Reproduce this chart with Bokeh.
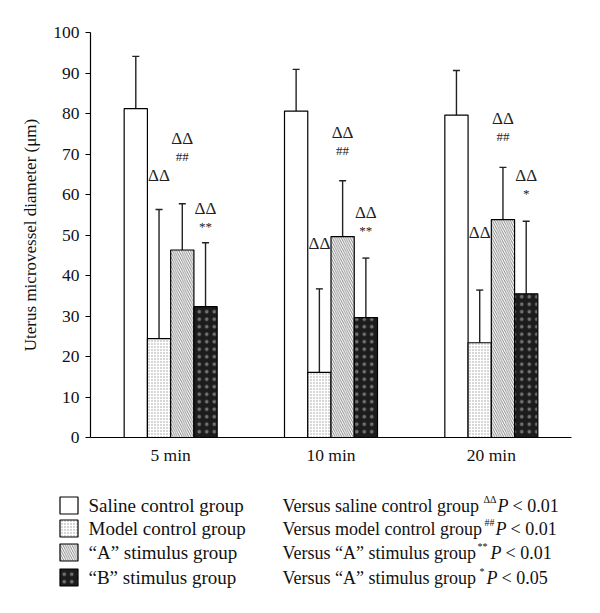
from bokeh.plotting import figure
from bokeh.models import (ColumnDataSource, Range1d, SingleIntervalTicker, FixedTicker,
                          LinearAxis)
from bokeh.transform import dodge
from bokeh.core.properties import value
from bokeh.embed import file_html
from bokeh.resources import INLINE

# ---------------- data ----------------
categories = ["5 min", "10 min", "20 min"]
group_names = ["Saline control group", "Model control group",
               "\u201cA\u201d stimulus group", "\u201cB\u201d stimulus group"]

saline_mean = [81.2, 80.6, 79.6]
saline_sd = [12.9, 10.3, 11.0]
model_mean = [24.4, 16.1, 23.4]
model_sd = [31.9, 20.6, 13.0]
stimA_mean = [46.3, 49.6, 53.8]
stimA_sd = [11.4, 13.8, 12.9]
stimB_mean = [32.3, 29.6, 35.5]
stimB_sd = [15.8, 14.7, 17.9]

# significance marks (label anchor heights, data units)
model_delta_y = [64.7, 47.9, 50.6]
stimA_delta_y = [73.8, 75.3, 78.8]
stimB_delta_y = [56.5, 55.6, 64.7]
stimA_marks = ["##", "##", "##"]
stimB_marks = ["**", "**", "*"]

legend_notes = ["Versus saline control group", "Versus model control group",
                "Versus \u201cA\u201d stimulus group", "Versus \u201cA\u201d stimulus group"]
legend_sups = ["\u0394\u0394", "##", "**", "*"]
legend_p = ["< 0.01", "< 0.01", "< 0.01", "< 0.05"]

# ---------------- layout / style ----------------
FONT = "Liberation Serif"
W_PX, H_PX = 600, 610
FRAME_LEFT, FRAME_RIGHT = 90, 571      # x-axis extent (px)
Y0_PX, Y100_PX = 437, 32               # y=0 and y=100 (px)
cat_px = (FRAME_RIGHT - FRAME_LEFT) / len(categories)
unit_px = (Y0_PX - Y100_PX) / 100.0

x_pos = [i + 0.5 for i in range(len(categories))]

W = 0.145
offsets = [-1.5 * W, -0.5 * W, 0.5 * W, 1.5 * W]
styles = [
    dict(fill_color="white"),
    dict(fill_color="white", hatch_pattern="dot", hatch_color="#9a9a9a", hatch_scale=3, hatch_weight=0.6),
    dict(fill_color="white", hatch_pattern="left_diagonal_line", hatch_color="#666666", hatch_scale=4.5, hatch_weight=0.8),
    dict(fill_color="#1c1c1c", hatch_pattern="dot", hatch_color="#707070", hatch_scale=7.5, hatch_weight=0.6),
]

p = figure(width=W_PX, height=H_PX,
           x_range=Range1d(-FRAME_LEFT / cat_px, (W_PX - FRAME_LEFT) / cat_px),
           y_range=Range1d(-(H_PX - Y0_PX) / unit_px, 100 + Y100_PX / unit_px),
           output_backend="svg", toolbar_location=None,
           x_axis_location=None, y_axis_location=None,
           min_border_left=0, min_border_right=0, min_border_top=0, min_border_bottom=0)
p.outline_line_color = None
p.grid.visible = False
p.extra_x_ranges = {"px": Range1d(0, W_PX)}
p.extra_y_ranges = {"px": Range1d(H_PX, 0)}

means = [saline_mean, model_mean, stimA_mean, stimB_mean]
sds = [saline_sd, model_sd, stimA_sd, stimB_sd]
for gi in range(4):
    src = ColumnDataSource(dict(x=x_pos, top=means[gi],
                                err=[m + s for m, s in zip(means[gi], sds[gi])]))
    xs = dodge("x", offsets[gi])
    p.segment(x0=xs, y0="top", x1=xs, y1="err", source=src, line_color="#222222", line_width=1.4)
    p.dash(x=xs, y="err", source=src, size=7, line_color="#222222", line_width=1.4)
    p.vbar(x=xs, top="top", bottom=0, width=W, source=src, line_color="black", line_width=1.2, **styles[gi])

MARK_GAP = 4.4
def add_marks(gi, delta_y, marks=None):
    xs = dodge("x", offsets[gi])
    s1 = ColumnDataSource(dict(x=x_pos, y=delta_y, t=["\u0394\u0394"] * len(x_pos)))
    p.text(x=xs, y="y", text="t", source=s1, text_font=value(FONT), text_font_size="17px",
           text_align="center", text_baseline="middle", text_color="#222222")
    if marks is not None:
        s2 = ColumnDataSource(dict(x=x_pos, y=[v - MARK_GAP for v in delta_y], t=marks))
        p.text(x=xs, y="y", text="t", source=s2, text_font=value(FONT), text_font_size="13px",
               text_align="center", text_baseline="middle", text_color="#222222")

add_marks(1, model_delta_y)
add_marks(2, stimA_delta_y, stimA_marks)
add_marks(3, stimB_delta_y, stimB_marks)

# ---------------- axes ----------------
xaxis = LinearAxis(fixed_location=0, bounds=(0, len(categories)),
                   ticker=FixedTicker(ticks=x_pos),
                   major_label_overrides={x: c for x, c in zip(x_pos, categories)})
xaxis.major_tick_out = 0
xaxis.major_tick_in = 0
xaxis.minor_tick_line_color = None
xaxis.major_label_standoff = 7
p.add_layout(xaxis, "below")

yaxis = LinearAxis(fixed_location=0, bounds=(0, 100), ticker=SingleIntervalTicker(interval=10),
                   axis_label="Uterus microvessel diameter (\u03bcm)")
yaxis.minor_tick_line_color = None
yaxis.major_tick_in = 0
yaxis.major_tick_out = 5
yaxis.major_label_standoff = 6
yaxis.axis_label_standoff = 10
p.add_layout(yaxis, "left")

for ax in (xaxis, yaxis):
    ax.axis_line_color = "black"
    ax.axis_line_width = 1.2
    ax.major_tick_line_color = "black"
    ax.major_label_text_font = FONT
    ax.major_label_text_font_size = "17.5px"
    ax.major_label_text_color = "#111111"
    ax.axis_label_text_font = FONT
    ax.axis_label_text_font_size = "17px"
    ax.axis_label_text_font_style = "normal"
    ax.axis_label_text_color = "#111111"

# ---------------- legend (pixel coordinates) ----------------
row_y = [505, 528, 552, 577]
for gi in range(4):
    p.rect(x=68.5, y=row_y[gi], width=18, height=17, line_color="black", line_width=1.2,
           x_range_name="px", y_range_name="px", **styles[gi])
p.text(x=[88] * 4, y=row_y, text=group_names, text_font=value(FONT), text_font_size="19px",
       text_baseline="middle", text_color="#111111", x_range_name="px", y_range_name="px")
p.text(x=[282] * 4, y=row_y, text=legend_notes, text_font=value(FONT), text_font_size="18px",
       text_baseline="middle", text_color="#111111", x_range_name="px", y_range_name="px")
sup_x = [483, 484, 477, 479]
p_x = [497, 495, 490, 486]
rest_x = [512, 510, 505, 501]
p.text(x=sup_x, y=[v - 6 for v in row_y], text=legend_sups, text_font=value(FONT), text_font_size="10px",
       text_baseline="middle", text_color="#111111", x_range_name="px", y_range_name="px")
p.text(x=p_x, y=row_y, text=["P"] * 4, text_font=value(FONT), text_font_size="18px",
       text_font_style="italic", text_baseline="middle", text_color="#111111",
       x_range_name="px", y_range_name="px")
p.text(x=rest_x, y=row_y, text=legend_p, text_font=value(FONT), text_font_size="18px",
       text_baseline="middle", text_color="#111111", x_range_name="px", y_range_name="px")

open("out.html", "w").write(file_html(p, INLINE))
